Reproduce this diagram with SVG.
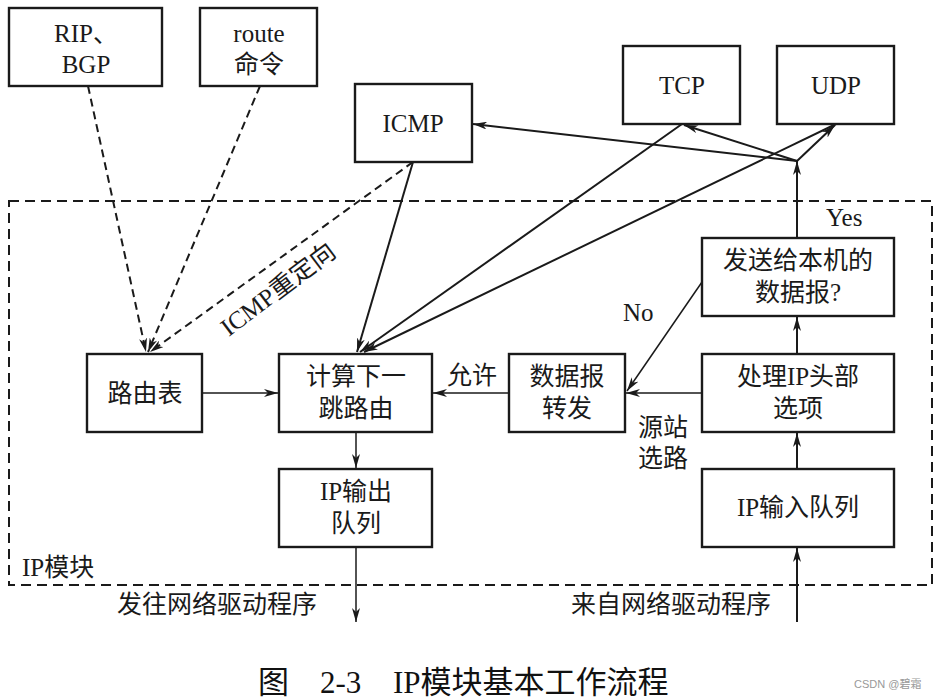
<svg xmlns="http://www.w3.org/2000/svg" width="938" height="699" viewBox="0 0 938 699">
<defs>
<style>
.box{fill:#fff;stroke:#1a1a1a;stroke-width:2.4}
.t{font-family:"Liberation Serif","Noto Sans CJK SC",serif;font-size:25px;fill:#1a1a1a;text-anchor:middle}
.l{font-family:"Liberation Serif","Noto Sans CJK SC",serif;font-size:25px;fill:#1a1a1a}
.c{stroke:#1a1a1a;stroke-width:2;fill:none}
.cd{stroke:#1a1a1a;stroke-width:2;fill:none;stroke-dasharray:8,5}
.thin{stroke:#1a1a1a;stroke-width:1.5;fill:none}
</style>
<marker id="a" viewBox="0 0 14 8" refX="14" refY="4" markerWidth="14" markerHeight="8" markerUnits="userSpaceOnUse" orient="auto">
<path d="M0,0 L14,4 L0,8 L4,4 z" fill="#1a1a1a"/>
</marker>
</defs>
<rect width="938" height="699" fill="#fff"/>

<g id="module">
<rect x="9" y="201" width="923" height="384" fill="none" stroke="#1a1a1a" stroke-width="2" stroke-dasharray="10,6"/>
<text class="l" x="22" y="576">IP模块</text>
</g>

<g id="connectors">
<path class="cd" d="M88,86 L146,352" marker-end="url(#a)"/>
<path class="cd" d="M260,86 L148,352" marker-end="url(#a)"/>
<path class="cd" d="M413,162 L150,352" marker-end="url(#a)"/>
<path class="c" d="M413,162 L357,352" marker-end="url(#a)"/>
<path class="c" d="M682,124 L360,352" marker-end="url(#a)"/>
<path class="c" d="M836,124 L364,352" marker-end="url(#a)"/>
<path class="c" d="M797,238 L797,161" marker-end="url(#a)"/>
<path class="c" d="M797,161 L473,124" marker-end="url(#a)"/>
<path class="c" d="M797,161 L684,125" marker-end="url(#a)"/>
<path class="c" d="M797,161 L835,125" marker-end="url(#a)"/>
<path class="thin" d="M202,393 L278,393" marker-end="url(#a)"/>
<path class="thin" d="M509,393 L433,393" marker-end="url(#a)"/>
<path class="thin" d="M702,393 L626,393" marker-end="url(#a)"/>
<path class="thin" d="M702,282 L627,391" marker-end="url(#a)"/>
<path class="c" d="M797,354 L797,317" marker-end="url(#a)"/>
<path class="c" d="M797,469 L797,433" marker-end="url(#a)"/>
<path class="thin" d="M356,432 L356,468" marker-end="url(#a)"/>
<path class="thin" d="M356,547 L356,622" marker-end="url(#a)"/>
<path class="c" d="M797,622 L797,548" marker-end="url(#a)"/>
</g>

<g id="labels">
<text class="l" transform="translate(283,296) rotate(-37)" text-anchor="middle">ICMP重定向</text>
<text class="l" x="447" y="384">允许</text>
<text class="l" x="623" y="321">No</text>
<text class="l" x="826" y="226">Yes</text>
<text class="l" x="638" y="436">源站</text>
<text class="l" x="638" y="467">选路</text>
<text class="l" x="117" y="613">发往网络驱动程序</text>
<text class="l" x="571" y="613">来自网络驱动程序</text>
</g>

<g id="rip"><rect class="box" x="9" y="8" width="153" height="78"/><text class="t" x="86" y="42">RIP、</text><text class="t" x="86" y="73">BGP</text></g>
<g id="route"><rect class="box" x="200" y="8" width="117" height="78"/><text class="t" x="259" y="42">route</text><text class="t" x="259" y="73">命令</text></g>
<g id="icmp"><rect class="box" x="355" y="84" width="117" height="78"/><text class="t" x="413" y="132">ICMP</text></g>
<g id="tcp"><rect class="box" x="623" y="46" width="117" height="78"/><text class="t" x="682" y="94">TCP</text></g>
<g id="udp"><rect class="box" x="777" y="46" width="117" height="78"/><text class="t" x="836" y="94">UDP</text></g>
<g id="routetable"><rect class="box" x="87" y="354" width="115" height="78"/><text class="t" x="145" y="402">路由表</text></g>
<g id="nexthop"><rect class="box" x="279" y="354" width="153" height="78"/><text class="t" x="356" y="385">计算下一</text><text class="t" x="356" y="417">跳路由</text></g>
<g id="forward"><rect class="box" x="509" y="354" width="116" height="78"/><text class="t" x="567" y="385">数据报</text><text class="t" x="567" y="417">转发</text></g>
<g id="options"><rect class="box" x="702" y="354" width="192" height="78"/><text class="t" x="798" y="385">处理IP头部</text><text class="t" x="798" y="417">选项</text></g>
<g id="local"><rect class="box" x="702" y="238" width="192" height="78"/><text class="t" x="798" y="269">发送给本机的</text><text class="t" x="798" y="301">数据报?</text></g>
<g id="outq"><rect class="box" x="279" y="469" width="153" height="78"/><text class="t" x="356" y="500">IP输出</text><text class="t" x="356" y="532">队列</text></g>
<g id="inq"><rect class="box" x="702" y="469" width="192" height="78"/><text class="t" x="798" y="516">IP输入队列</text></g>

<g id="caption">
<text font-family="'Liberation Serif','Noto Sans CJK SC',serif" font-size="31" fill="#111" y="693"><tspan x="258">图</tspan><tspan x="320">2-3</tspan><tspan x="393">IP模块基本工作流程</tspan></text>
<text font-family="'Liberation Sans','Noto Sans CJK SC',sans-serif" font-size="11" fill="#999" x="854" y="688">CSDN @碧霜</text>
</g>
</svg>
